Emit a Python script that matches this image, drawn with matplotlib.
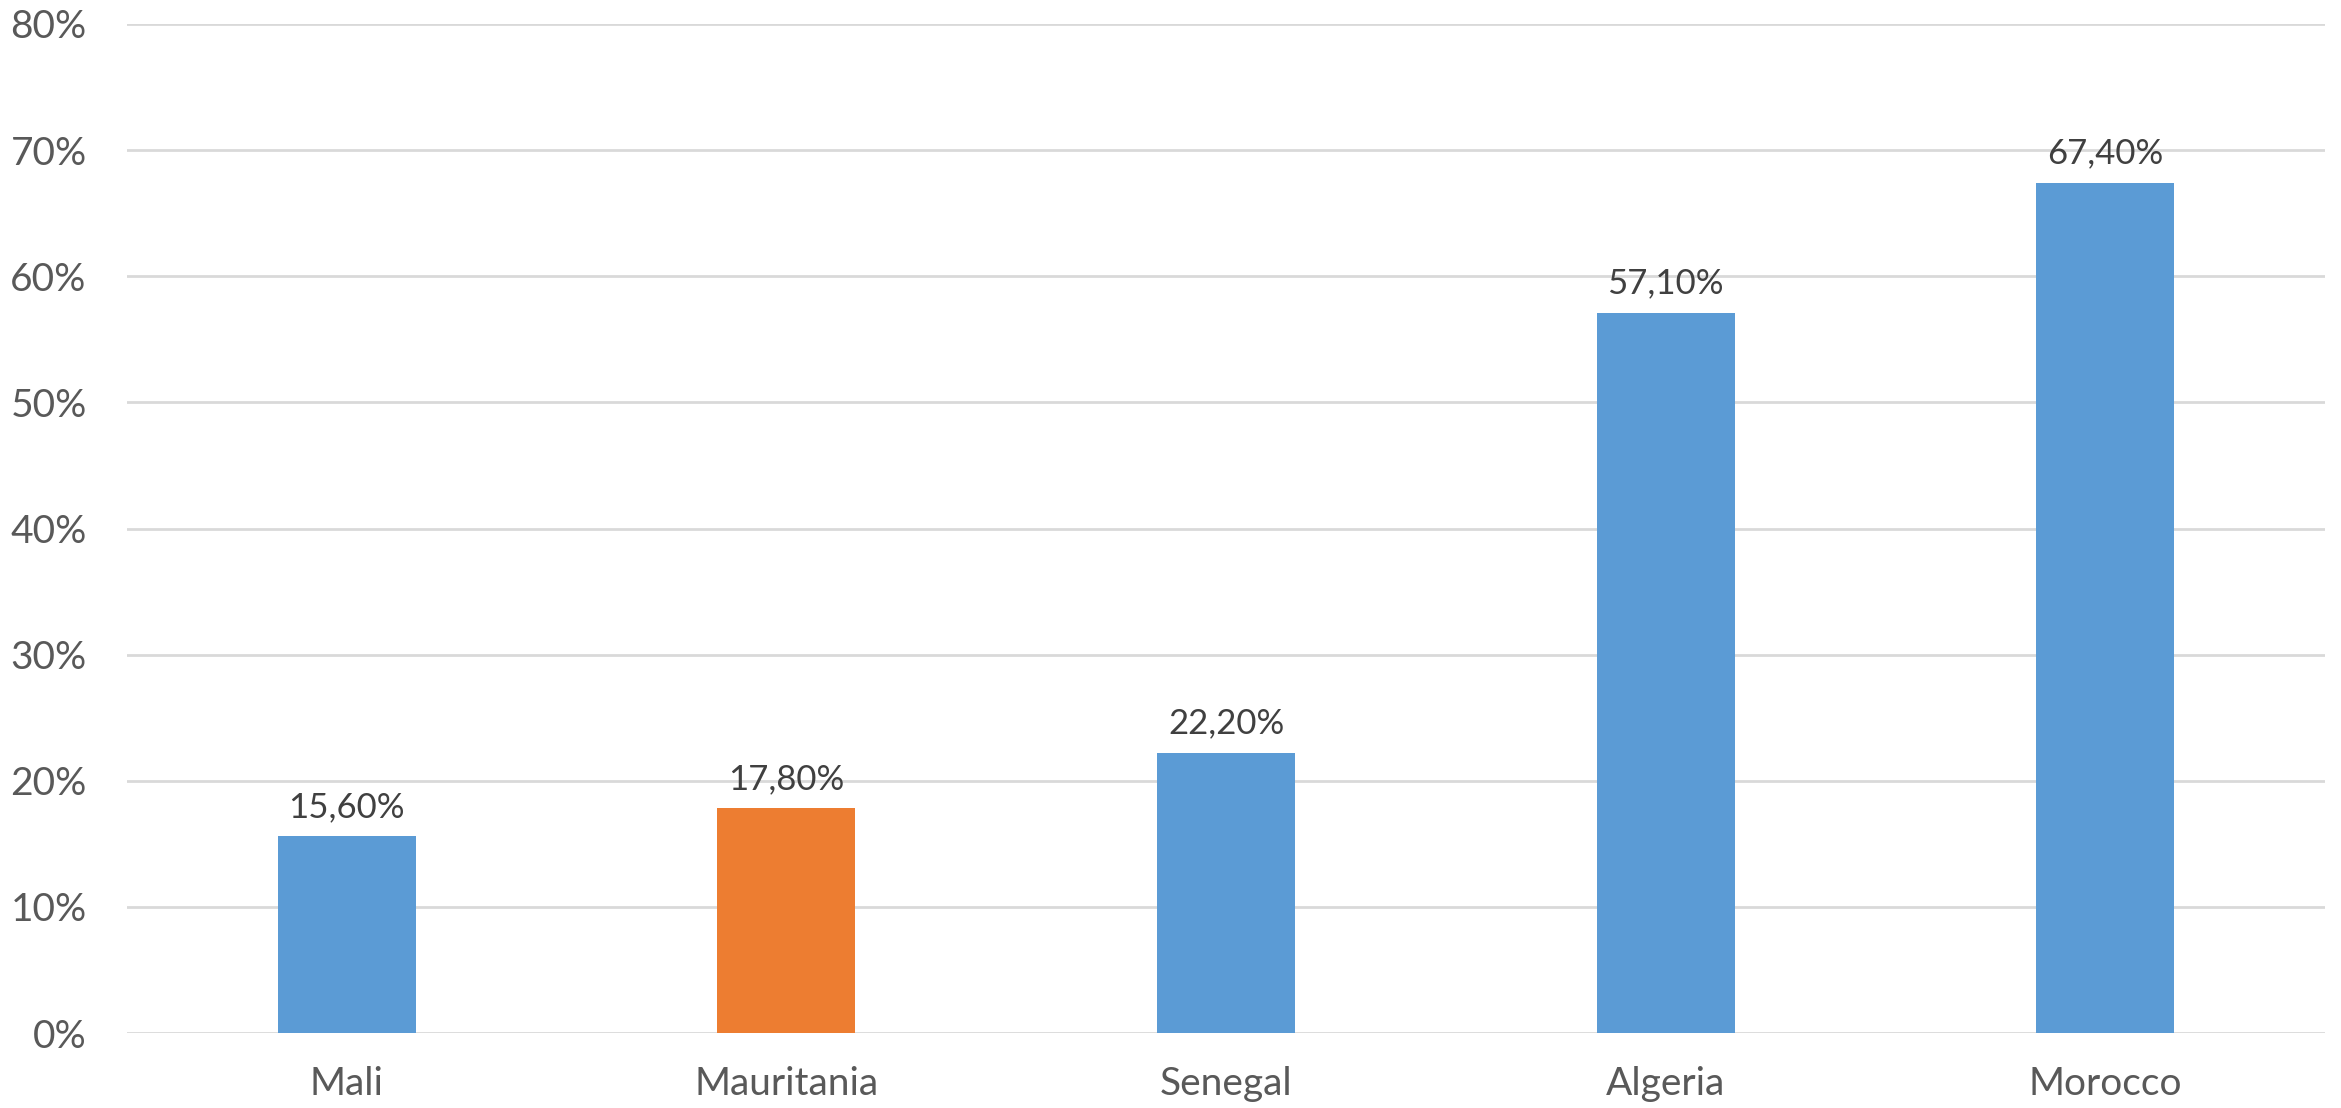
import matplotlib
matplotlib.use("Agg")
import matplotlib.pyplot as plt
import numpy as np

countries = ["Mali", "Mauritania", "Senegal", "Algeria", "Morocco"]
values = [15.6, 17.8, 22.2, 57.1, 67.4]
labels = ["15,60%", "17,80%", "22,20%", "57,10%", "67,40%"]
colors = ["#5B9BD5", "#ED7D31", "#5B9BD5", "#5B9BD5", "#5B9BD5"]
yticks = [0, 10, 20, 30, 40, 50, 60, 70, 80]

plt.rcParams['font.family'] = ['Lato', 'DejaVu Sans']

W, H = 2341, 1108
fig = plt.figure(figsize=(W / 100, H / 100), dpi=100)
ax = fig.add_axes([127 / W, 1 - 1033 / H, (2325 - 127) / W, (1033 - 24) / H])

x = np.arange(len(countries))
ax.bar(x, values, width=0.314, color=colors, zorder=3)
for xi, v, lab in zip(x, values, labels):
    ax.annotate(lab, (xi, v), xytext=(0, 14), textcoords="offset points",
                ha="center", va="baseline", fontsize=25, color="#404040")

ax.set_xlim(-0.5, len(countries) - 0.5)
ax.set_ylim(0, 80)
ax.set_yticks(yticks)
ax.set_yticklabels([f"{t}%" for t in yticks])
ax.set_xticks(x)
ax.set_xticklabels(countries)
ax.tick_params(axis="y", length=0, pad=29, labelsize=28, labelcolor="#595959")
ax.tick_params(axis="x", length=0, pad=24, labelsize=28, labelcolor="#595959")
ax.grid(axis="y", color="#D9D9D9", linewidth=2, zorder=0)
for s in ["top", "right", "left", "bottom"]:
    ax.spines[s].set_visible(False)

fig.savefig("out.png", dpi=100, facecolor="white")
